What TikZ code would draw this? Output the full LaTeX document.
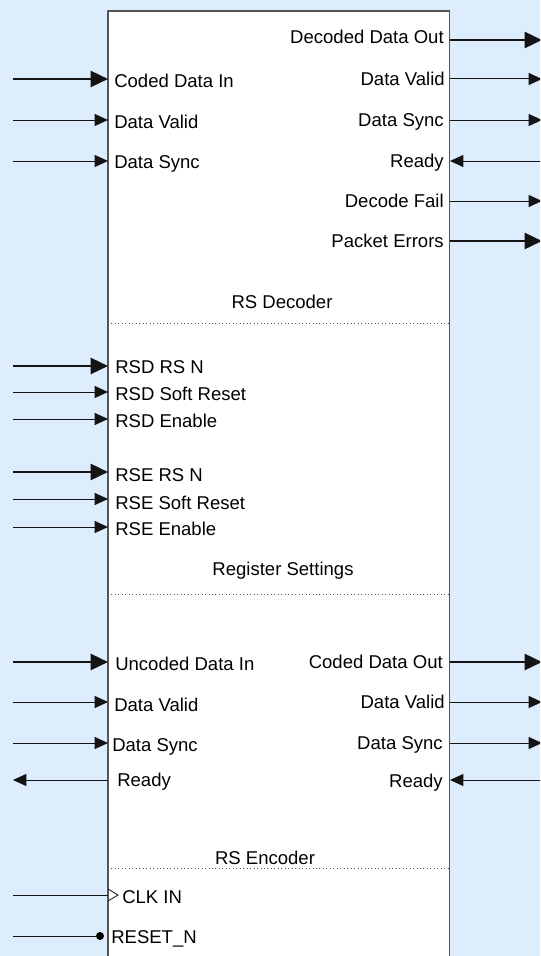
\documentclass[tikz,border=0pt]{standalone}
\usepackage{fontspec}
\setmainfont{Liberation Sans}
\usetikzlibrary{arrows.meta}
\definecolor{bg}{RGB}{222,237,253}
\definecolor{boxline}{RGB}{85,85,85}
\definecolor{sigc}{RGB}{20,20,20}
\begin{document}
\begin{tikzpicture}[x=0.75pt,y=-0.75pt,
  lbl/.style={font=\fontsize{13.9pt}{16pt}\selectfont, inner sep=0pt},
  lw/.style={lbl,anchor=base west},
  le/.style={lbl,anchor=base east},
  lc/.style={lbl,anchor=base},
  bus/.style={sigc,line width=1.9pt,-{Triangle[length=13pt,width=12pt]}},
  sig/.style={sigc,line width=0.75pt,-{Triangle[length=10pt,width=9pt]}},
  sigrev/.style={sigc,line width=0.75pt,{Triangle[length=10pt,width=9pt]}-},
  sep/.style={boxline,dotted,line width=0.6pt}]
\useasboundingbox (0,0) rectangle (540,956);
\fill[bg] (0,0) rectangle (540,956);
\clip (0,0) rectangle (540,956);
% main block
\draw[boxline,line width=1.1pt,fill=white] (108,11) rectangle (449.5,970);
\draw[sep] (108,323) -- (449.5,323);
\draw[sep] (108,594) -- (449.5,594);
\draw[sep] (108,868) -- (449.5,868);
% left inputs
\foreach \n/\y/\s in {cdi/79/bus, dvi/120/sig, dsi/161/sig,
  rsdrsn/366/bus, rsdsr/392/sig, rsden/419/sig,
  rsersn/472/bus, rsesr/499/sig, rseen/527/sig,
  udi/662/bus, edvi/702/sig, edsi/743/sig}{
  \coordinate (\n-o) at (13,\y);
  \coordinate (\n-p) at (108,\y);
  \draw[\s] (\n-o) -- (\n-p);
}
\coordinate (erdy-o) at (13,780);
\coordinate (erdy-p) at (108,780);
\draw[sigrev] (erdy-o) -- (erdy-p);
% right outputs
\foreach \n/\y/\s in {ddo/40/bus, dvo/79/sig, dso/120/sig, dfo/201/sig, peo/241/bus,
  cdo/662/bus, edvo/702/sig, edso/743/sig}{
  \coordinate (\n-p) at (450,\y);
  \coordinate (\n-o) at (542,\y);
  \draw[\s] (\n-p) -- (\n-o);
}
\coordinate (rdy-p) at (450,161);
\coordinate (rdy-o) at (542,161);
\draw[sigrev] (rdy-p) -- (rdy-o);
\coordinate (erdyo-p) at (450,780);
\coordinate (erdyo-o) at (542,780);
\draw[sigrev] (erdyo-p) -- (erdyo-o);
% clock and reset
\coordinate (clk-o) at (13,895);
\coordinate (clk-p) at (108,895);
\draw[sigc,line width=0.75pt] (clk-o) -- (clk-p);
\draw[sigc,line width=0.6pt] (108,889) -- (118,895) -- (108,901);
\coordinate (rst-o) at (13,936);
\coordinate (rst-p) at (100,936);
\draw[sigc,line width=0.75pt] (rst-o) -- (rst-p);
\fill[black] (rst-p) circle (3pt);
% labels left
\node[lw] (l1) at (114,88) {Coded Data In};
\node[lw] (l2) at (114,128) {Data Valid};
\node[lw] (l3) at (114,168) {Data Sync};
\node[lw] (l4) at (115,373) {RSD RS N};
\node[lw] (l5) at (115,400) {RSD Soft Reset};
\node[lw] (l6) at (115,427) {RSD Enable};
\node[lw] (l7) at (115,481) {RSE RS N};
\node[lw] (l8) at (115,509) {RSE Soft Reset};
\node[lw] (l9) at (115,535) {RSE Enable};
\node[lw] (l10) at (115,670) {Uncoded Data In};
\node[lw] (l11) at (114,711) {Data Valid};
\node[lw] (l12) at (112,751) {Data Sync};
\node[lw] (l13) at (117,786) {Ready};
\node[lw] (l14) at (122,903) {CLK IN};
\node[lw] (l15) at (111,943) {RESET\_N};
% labels right
\node[le] (r1) at (444,44) {Decoded Data Out};
\node[le] (r2) at (445,85) {Data Valid};
\node[le] (r3) at (444,126) {Data Sync};
\node[le] (r4) at (444,167) {Ready};
\node[le] (r5) at (444,207) {Decode Fail};
\node[le] (r6) at (444,247) {Packet Errors};
\node[le] (r7) at (443,668) {Coded Data Out};
\node[le] (r8) at (445,708) {Data Valid};
\node[le] (r9) at (443,749) {Data Sync};
\node[le] (r10) at (443,787) {Ready};
% section titles
\node[lc] (t1) at (282,308) {RS Decoder};
\node[lc] (t2) at (283,575) {Register Settings};
\node[lc] (t3) at (265,864) {RS Encoder};
\end{tikzpicture}
\end{document}
